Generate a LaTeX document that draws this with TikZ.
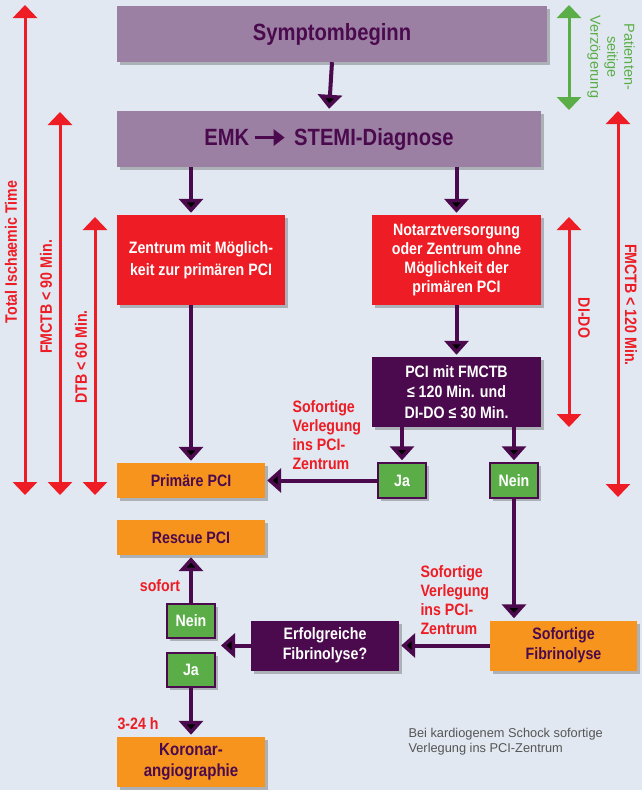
\documentclass[tikz,border=0pt]{standalone}
\usepackage{fontspec}
\setmainfont{Liberation Sans}[FakeStretch=0.86]
\newfontfamily\plainfont{Liberation Sans}
\usetikzlibrary{arrows.meta,shadows}
\definecolor{bgc}{HTML}{E1E8F1}
\definecolor{lila}{HTML}{9B80A3}
\definecolor{dpurple}{HTML}{4A0A4D}
\definecolor{redc}{HTML}{EE1C24}
\definecolor{orangec}{HTML}{F7941E}
\definecolor{greenc}{HTML}{5BAE47}
\definecolor{notegrey}{HTML}{555555}
\begin{document}
\begin{tikzpicture}[x=1pt,y=-1pt,
  base/.style={rectangle, inner sep=2pt, align=center,
    font=\bfseries\fontsize{16.5}{19}\selectfont,
    drop shadow={shadow xshift=3pt,shadow yshift=-3pt,opacity=0.35,fill=black!70}},
  lilabox/.style={base, fill=lila, text=dpurple, font=\bfseries\fontsize{23.5}{26}\selectfont},
  redbox/.style={base, fill=redc, text=white},
  darkbox/.style={base, fill=dpurple, text=white},
  orangebox/.style={base, fill=orangec, text=dpurple},
  greenbox/.style={base, fill=greenc, draw=dpurple, line width=1.5pt, text=white},
  flow/.style={draw=dpurple, line width=4pt, shorten >=2pt, -{Triangle[width=24pt,length=14pt]}},
  span/.style={line width=3pt, {Triangle[width=24pt,length=13pt]}-{Triangle[width=24pt,length=13pt]}},
  redlabel/.style={text=redc, font=\bfseries\fontsize{16.5}{19}\selectfont},
]
\fill[bgc] (0,0) rectangle (642,790);
\useasboundingbox (0,0) rectangle (642,790);

% boxes
\node[lilabox, minimum width=430pt, minimum height=56pt] (sym) at (332,34) {Symptombeginn};
\node[lilabox, minimum width=424pt, minimum height=56pt] (emk) at (329,139)
  {EMK\,\tikz[baseline=-0.6ex]\draw[dpurple,line width=3pt,-{Triangle[width=16pt,length=11pt]}](0pt,0pt)--(30pt,0pt);\hspace{8pt}STEMI-Diagnose};
\node[redbox, minimum width=168pt, minimum height=90pt, font=\bfseries\fontsize{16.5}{22}\selectfont] (zent) at (201,260)
  {Zentrum mit Möglich-\\keit zur primären PCI};
\node[redbox, minimum width=169pt, minimum height=90pt] (notarzt) at (456.5,260)
  {Notarztversorgung\\oder Zentrum ohne\\Möglichkeit der\\primären PCI};
\node[darkbox, minimum width=169pt, minimum height=70pt, font=\bfseries\fontsize{16.5}{20.5}\selectfont] (pci) at (456.5,392)
  {PCI mit FMCTB\\≤ 120 Min. und\\DI-DO ≤ 30 Min.};
\node[greenbox, minimum width=48pt, minimum height=35pt] (ja1) at (402,480.5) {Ja};
\node[greenbox, minimum width=48pt, minimum height=35pt] (nein1) at (514,480.5) {Nein};
\node[orangebox, minimum width=148pt, minimum height=35pt] (prim) at (191,480.5) {Primäre PCI};
\node[orangebox, minimum width=148pt, minimum height=35pt] (rescue) at (191,537.5) {Rescue PCI};
\node[orangebox, minimum width=147pt, minimum height=50pt, font=\bfseries\fontsize{16.5}{20}\selectfont] (soffib) at (563.5,645.5) {Sofortige\\Fibrinolyse};
\node[darkbox, minimum width=148pt, minimum height=50pt, font=\bfseries\fontsize{16.5}{20}\selectfont] (erf) at (325,645.5) {Erfolgreiche\\Fibrinolyse?};
\node[greenbox, minimum width=48pt, minimum height=34pt] (nein2) at (191,621) {Nein};
\node[greenbox, minimum width=48pt, minimum height=34pt] (ja2) at (191,670) {Ja};
\node[orangebox, minimum width=148pt, minimum height=50pt, font=\bfseries\fontsize{17.5}{21}\selectfont] (kor) at (191,762) {Koronar-\\angiographie};

% flow arrows
\draw[flow] (sym.south) -- (emk.north);
\draw[flow] (emk.south -| prim.north) -- (zent.north -| prim.north);
\draw[flow] (emk.south -| notarzt.north) -- (notarzt.north);
\draw[flow] (zent.south -| prim.north) -- (prim.north);
\draw[flow] (notarzt.south) -- (pci.north);
\draw[flow] (pci.south -| ja1.north) -- (ja1.north);
\draw[flow] (pci.south -| nein1.north) -- (nein1.north);
\draw[flow] (ja1.west) -- (prim.east);
\draw[flow] (nein1.south) -- (soffib.north -| nein1.south);
\draw[flow] (soffib.west) -- (erf.east);
\coordinate (split) at (219,645.5);
\draw[flow] (erf.west) -- (split);
\draw[flow] (nein2.north) -- (rescue.south);
\draw[flow] (ja2.south) -- (kor.north);

% flow labels
\node[redlabel, align=left, anchor=north west] (lab1) at (289,397) {Sofortige\\Verlegung\\ins PCI-\\Zentrum};
\node[redlabel, align=left, anchor=north west] (lab2) at (417,562) {Sofortige\\Verlegung\\ins PCI-\\Zentrum};
\node[redlabel] (lab3) at (160,586) {sofort};
\node[redlabel, anchor=west] (lab4) at (114,724) {3-24 h};
\node[text=notegrey, align=left, anchor=north west, font=\plainfont\fontsize{12.8}{15}\selectfont] (note) at (405,725)
  {Bei kardiogenem Schock sofortige\\Verlegung ins PCI-Zentrum};

% side spans
\coordinate (t1) at (25,5);   \coordinate (b1) at (25,495);
\coordinate (t2) at (60,112); \coordinate (b2) at (60,495);
\coordinate (t3) at (95,217); \coordinate (b3) at (95,495);
\draw[span, redc] (t1) -- (b1);
\draw[span, redc] (t2) -- (b2);
\draw[span, redc] (t3) -- (b3);
\node[redlabel, rotate=90] (l1) at (11,252) {Total Ischaemic Time};
\node[redlabel, rotate=90] (l2) at (46,297) {FMCTB < 90 Min.};
\node[redlabel, rotate=90] (l3) at (81,357) {DTB < 60 Min.};

\coordinate (t4) at (569,5);   \coordinate (b4) at (569,110);
\coordinate (t5) at (569,217); \coordinate (b5) at (569,427);
\coordinate (t6) at (618,111); \coordinate (b6) at (618,497);
\draw[span, greenc] (t4) -- (b4);
\draw[span, redc] (t5) -- (b5);
\draw[span, redc] (t6) -- (b6);
\node[text=greenc, rotate=-90, align=center, font=\plainfont\fontsize{14.5}{17}\selectfont] (l4) at (611,57) {Patienten-\\seitige\\Verzögerung};
\node[redlabel, rotate=-90] (l5) at (584,318) {DI-DO};
\node[redlabel, rotate=-90] (l6) at (631,305) {FMCTB < 120 Min.};
\end{tikzpicture}
\end{document}
